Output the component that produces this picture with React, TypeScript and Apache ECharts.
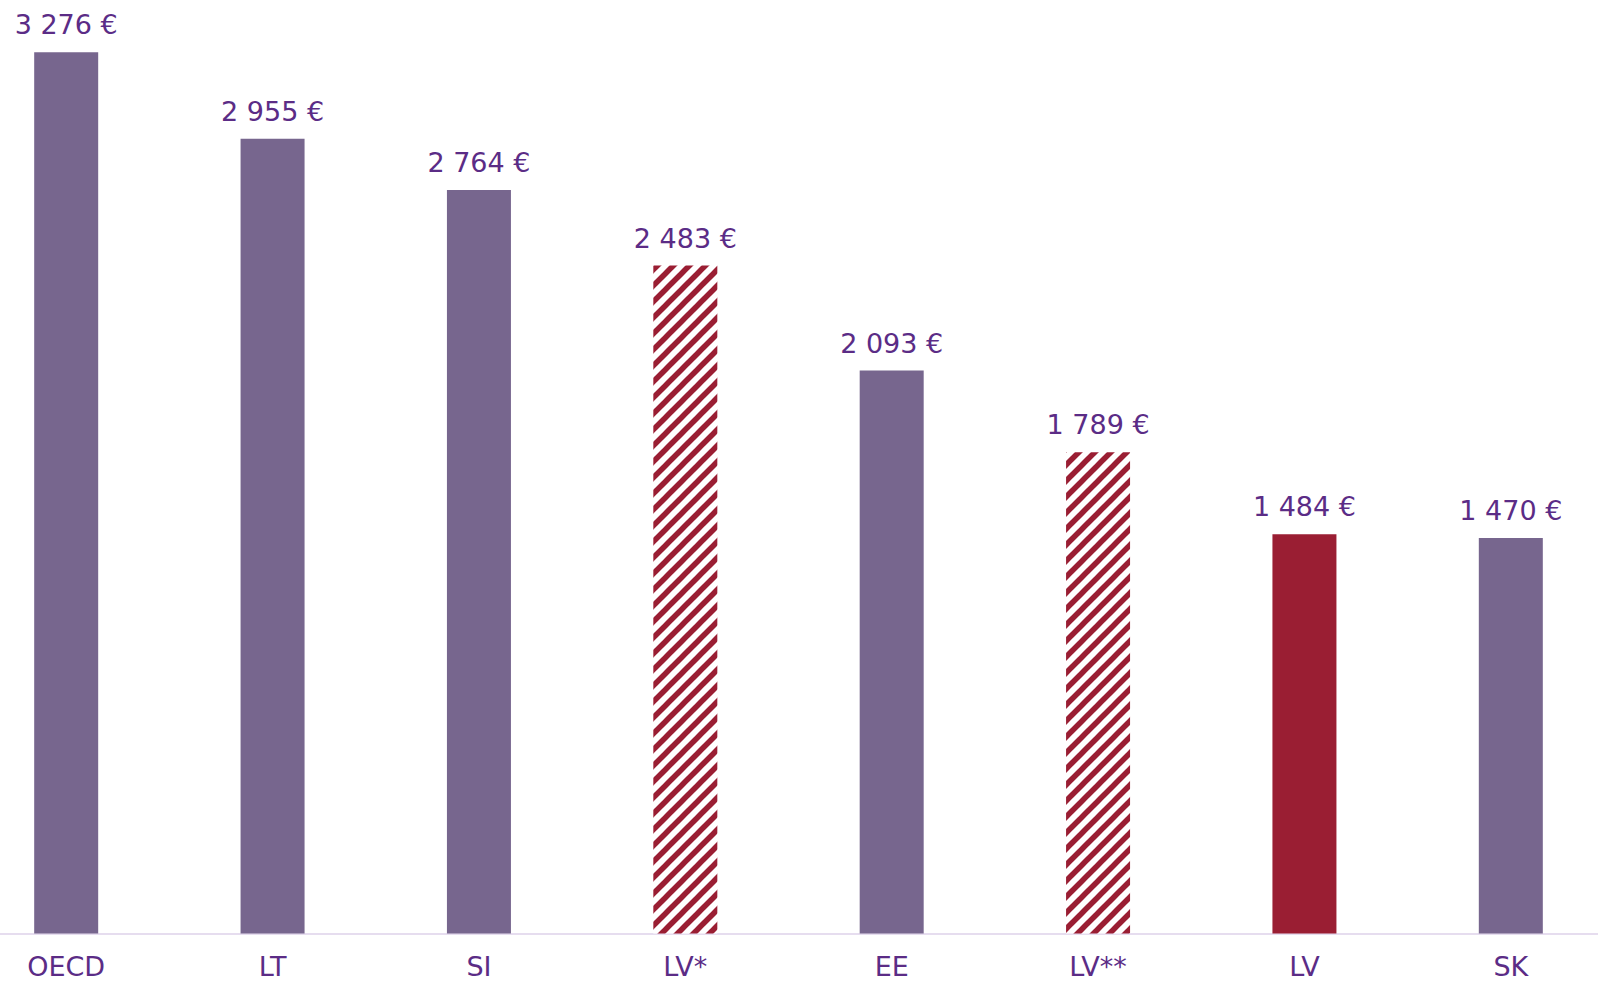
import React, { useEffect, useRef } from "react";
import * as echarts from "echarts";

const categories = ["OECD", "LT", "SI", "LV*", "EE", "LV**", "LV", "SK"];
const values = [3276, 2955, 2764, 2483, 2093, 1789, 1484, 1470];
const barKinds = ["purple", "purple", "purple", "hatch", "purple", "hatch", "red", "purple"];

const PURPLE = "#77668e";
const RED = "#9a1e33";
const TEXT = "#5b2c86";

function makeHatch(): HTMLCanvasElement {
  const s = 16;
  const c = document.createElement("canvas");
  c.width = s;
  c.height = s;
  const ctx = c.getContext("2d")!;
  ctx.fillStyle = "#ffffff";
  ctx.fillRect(0, 0, s, s);
  ctx.strokeStyle = RED;
  ctx.lineWidth = 5.5;
  ctx.lineCap = "square";
  for (const off of [-s, 0, s]) {
    ctx.beginPath();
    ctx.moveTo(off - 2, s + 2);
    ctx.lineTo(off + s + 2, -2);
    ctx.stroke();
  }
  return c;
}

function fmt(v: number): string {
  return String(v).replace(/\B(?=(\d{3})+(?!\d))/g, " ") + " €";
}

export default function App() {
  const ref = useRef<HTMLDivElement>(null);
  useEffect(() => {
    if (!ref.current) return;
    const chart = echarts.init(ref.current, undefined, { renderer: "svg" });
    const hatch = makeHatch();
    const data = values.map((v, i) => {
      const k = barKinds[i];
      const color =
        k === "purple" ? PURPLE : k === "red" ? RED : { image: hatch, repeat: "repeat" as const };
      return { value: v, itemStyle: { color } };
    });
    chart.setOption({
      animation: false,
      grid: { left: 0, right: 0, top: 52.3, bottom: 49.5, containLabel: false },
      xAxis: {
        type: "category",
        data: categories,
        axisLine: { show: true, lineStyle: { color: "#e6ddef", width: 2 } },
        axisTick: { show: false },
        axisLabel: {
          color: TEXT,
          fontSize: 27,
          fontFamily: "DejaVu Sans",
          margin: 19,
        },
      },
      yAxis: {
        type: "value",
        min: 0,
        max: 3276,
        show: false,
        splitLine: { show: false },
      },
      series: [
        {
          type: "bar",
          data,
          barWidth: 64,
          label: {
            show: true,
            position: "top",
            distance: 14,
            color: TEXT,
            fontSize: 27,
            fontFamily: "DejaVu Sans",
            formatter: (p: any) => fmt(p.value),
          },
        },
      ],
    });
    return () => chart.dispose();
  }, []);
  return (
    <div
      ref={ref}
      style={{ position: "fixed", left: -36.7, top: 0, width: 1651, height: 983, background: "#fff" }}
    />
  );
}
